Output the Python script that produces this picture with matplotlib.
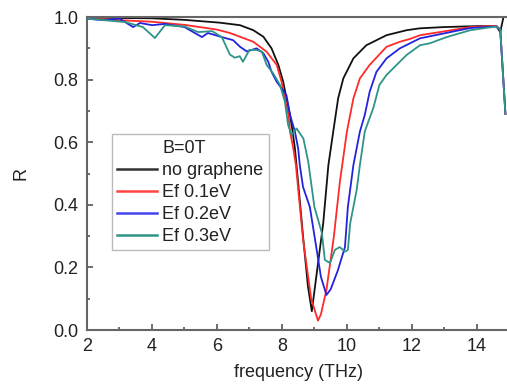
import matplotlib.pyplot as plt
from matplotlib.lines import Line2D
from matplotlib.ticker import MultipleLocator

plt.rcParams['font.family'] = ['Liberation Sans', 'DejaVu Sans']

# no graphene
x_ng = [2.0, 3.0, 4.0, 5.0, 6.09, 6.71, 7.12, 7.43, 7.68, 7.89, 8.04, 8.14, 8.25, 8.33, 8.4,
        8.5, 8.65, 8.8, 8.92, 9.07, 9.27, 9.43, 9.58, 9.73, 9.89, 10.2, 10.6, 11.22, 11.84,
        12.25, 13.0, 14.0, 14.6, 14.72, 14.82, 15.0]
r_ng = [0.998, 0.997, 0.996, 0.991, 0.982, 0.974, 0.958, 0.937, 0.9, 0.847, 0.793, 0.74, 0.687,
        0.634, 0.58, 0.47, 0.3, 0.14, 0.06, 0.18, 0.34, 0.527, 0.634, 0.74, 0.804, 0.868, 0.91,
        0.942, 0.958, 0.964, 0.968, 0.971, 0.971, 0.952, 1.0, 1.0]

# Ef 0.1eV
x_01 = [2.0, 3.0, 4.0, 5.0, 6.0, 6.4, 6.71, 7.12, 7.53, 7.84, 7.99, 8.09, 8.2, 8.25, 8.35, 8.43,
        8.65, 8.9, 9.11, 9.2, 9.37, 9.6, 9.78, 9.9, 10.0, 10.2, 10.4, 10.7, 11.22, 11.63, 11.94,
        12.25, 12.86, 13.8, 14.6, 14.72, 14.88]
r_01 = [0.995, 0.99, 0.985, 0.975, 0.96, 0.949, 0.937, 0.921, 0.889, 0.847, 0.793, 0.74, 0.687,
        0.634, 0.58, 0.527, 0.29, 0.1, 0.03, 0.05, 0.128, 0.3, 0.47, 0.56, 0.634, 0.74, 0.804,
        0.847, 0.905, 0.921, 0.93, 0.942, 0.952, 0.968, 0.972, 0.96, 0.69]

# Ef 0.2eV
x_02 = [2.0, 2.5, 3.0, 3.42, 3.63, 4.0, 4.4, 5.0, 5.32, 5.54, 5.72, 6.15, 6.5, 6.71, 6.92, 7.22,
        7.43, 7.58, 7.68, 7.84, 7.99, 8.14, 8.25, 8.4, 8.5, 8.55, 8.65, 8.86, 9.07, 9.2, 9.37,
        9.5, 9.72, 9.94, 10.03, 10.2, 10.4, 10.55, 10.7, 10.91, 11.22, 11.63, 12.25, 12.86,
        13.8, 14.6, 14.72, 14.88]
r_02 = [0.995, 0.99, 0.995, 0.968, 0.981, 0.974, 0.978, 0.968, 0.949, 0.936, 0.949, 0.936,
        0.926, 0.905, 0.89, 0.9, 0.884, 0.857, 0.825, 0.793, 0.772, 0.75, 0.687, 0.634, 0.58,
        0.527, 0.457, 0.393, 0.256, 0.17, 0.112, 0.13, 0.19, 0.265, 0.393, 0.527, 0.634, 0.687,
        0.761, 0.825, 0.868, 0.9, 0.932, 0.945, 0.965, 0.97, 0.96, 0.69]

# Ef 0.3eV
x_03 = [2.0, 3.17, 3.72, 4.09, 4.4, 5.0, 5.42, 5.85, 6.15, 6.4, 6.55, 6.7, 6.8, 7.0, 7.2, 7.38,
        7.53, 7.73, 7.94, 8.09, 8.19, 8.3, 8.45, 8.66, 8.81, 9.0, 9.23, 9.32, 9.48, 9.63, 9.78,
        9.94, 10.03, 10.1, 10.3, 10.4, 10.55, 10.66, 10.81, 11.0, 11.22, 11.53, 11.84, 12.25,
        12.55, 13.07, 13.8, 14.6, 14.72, 14.88]
r_03 = [0.995, 0.984, 0.968, 0.933, 0.974, 0.97, 0.952, 0.955, 0.936, 0.88, 0.87, 0.875, 0.857,
        0.895, 0.895, 0.89, 0.847, 0.82, 0.783, 0.73, 0.655, 0.623, 0.644, 0.612, 0.538, 0.393,
        0.31, 0.224, 0.214, 0.256, 0.265, 0.25, 0.256, 0.34, 0.447, 0.527, 0.634, 0.666, 0.708,
        0.783, 0.815, 0.847, 0.879, 0.91, 0.916, 0.936, 0.958, 0.97, 0.96, 0.69]

fig = plt.figure(figsize=(5.07, 3.84), dpi=100)
ax = fig.add_axes([0.1716, 0.1406, 0.833, 0.815])

ax.plot(x_ng, r_ng, color='#111111', lw=1.3)
ax.plot(x_01, r_01, color='#ff2a2a', lw=1.3)
ax.plot(x_02, r_02, color='#2323dd', lw=1.3)
ax.plot(x_03, r_03, color='#2e9488', lw=1.3)

ax.set_xlim(2, 15)
ax.set_ylim(0, 1.0)
ax.xaxis.set_major_locator(MultipleLocator(2))
ax.xaxis.set_minor_locator(MultipleLocator(1))
ax.yaxis.set_major_locator(MultipleLocator(0.2))
ax.yaxis.set_minor_locator(MultipleLocator(0.1))
ax.yaxis.set_major_formatter(plt.FormatStrFormatter('%.1f'))
ax.tick_params(which='both', direction='in', colors='#555555', labelcolor='#222222',
               labelsize=13, width=1.2)
ax.tick_params(which='major', length=4, pad=6)
ax.tick_params(which='minor', length=2.5)
for s in ax.spines.values():
    s.set_color('#666666')
    s.set_linewidth(1.5)

ax.set_xlabel('frequency (THz)', fontsize=13, color='#222222', labelpad=6)
ax.set_ylabel('R', fontsize=13, color='#222222', labelpad=17)

handles = [Line2D([], [], color='none'),
           Line2D([], [], color='#333333', lw=1.8),
           Line2D([], [], color='#ff4444', lw=1.8),
           Line2D([], [], color='#4444ee', lw=1.8),
           Line2D([], [], color='#2e9488', lw=1.8)]
labels = ['B=0T', 'no graphene', 'Ef 0.1eV', 'Ef 0.2eV', 'Ef 0.3eV']
leg = ax.legend(handles, labels, loc='upper left', bbox_to_anchor=(0.059, 0.625),
                fontsize=13, frameon=True, fancybox=False, handlelength=2.2,
                handletextpad=0.3, labelspacing=0.28, borderpad=0.3, borderaxespad=0)
leg.get_frame().set_edgecolor('#aaaaaa')
leg.get_frame().set_linewidth(1.0)
for t in leg.get_texts():
    t.set_color('#222222')

fig.savefig('out.png', dpi=100)
